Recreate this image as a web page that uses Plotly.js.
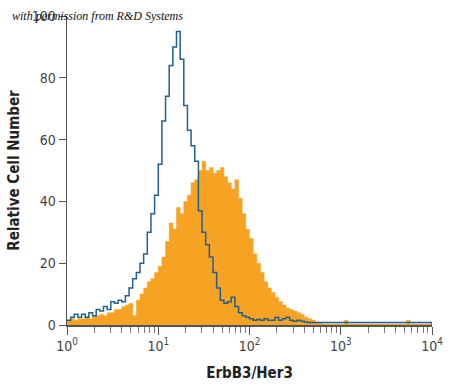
<!DOCTYPE html>
<html>
<head>
<meta charset="utf-8">
<script src="https://cdn.plot.ly/plotly-3.0.1.min.js"></script>
<style>html,body{margin:0;padding:0;background:#fff;}#chart{width:450px;height:387px;}</style>
</head>
<body>
<div id="chart"></div>
<script>
// Histogram channels: 25 bins per decade, from 10^0 to 10^4
const binsPerDecade = 25;
const minExponent = 0;
const maxExponent = 4;

// Isotype control (blue outline)
const controlCounts = [
  1.5, 2.5, 3.5, 2.5, 3.5, 2.5, 4, 3, 5, 4.5,
  6, 5, 7.5, 7, 8, 7.5, 9.5, 12, 15, 17,
  20, 23, 30, 36, 42, 52, 66, 74, 84, 90,
  95, 86, 71, 63, 58, 53, 37, 30, 26, 22,
  17, 12, 8, 7, 7.5, 9, 6, 4, 3, 2.5,
  2, 1.5, 1.8, 1.5, 2, 1.5, 1.5, 2.5, 1.5, 2,
  2.5, 1.5, 1.2, 1.5, 1.2, 1, 0.8, 0.8, 0.8, 0.8,
  0.8, 0.8, 0.8, 0.8, 0.8, 0.8, 0.8, 0.8, 0.8, 0.8,
  0.8, 0.8, 0.8, 0.8, 0.8, 0.8, 0.8, 0.8, 0.8, 0.8,
  0.8, 0.8, 0.8, 0.8, 0.8, 0.8, 0.8, 0.8, 0.8, 0.8
];

// ErbB3/Her3 stained cells (orange filled)
const erbb3Counts = [
  1.5, 2, 1.5, 2, 2, 2.5, 2, 3, 3, 3.5,
  3, 4, 4, 5, 5, 6, 6.5, 7, 3, 8,
  10, 12, 14, 15, 17, 19, 22, 27, 33, 31,
  38, 36, 40, 42, 46, 47, 50, 53, 50, 51,
  49, 50, 51, 48, 46, 44, 47, 41, 36, 31,
  28, 23, 20, 17, 14, 12, 10.5, 9, 7.5, 6.5,
  5.5, 5, 4.5, 4, 3.5, 2.5, 2, 1.5, 1, 0.5,
  0.3, 0.3, 0.3, 0.3, 0.3, 0.3, 1.5, 0.3, 0.3, 0.3,
  0.3, 0.3, 0.3, 0.3, 0.3, 0.3, 0.3, 0.3, 0.3, 0.3,
  0.3, 0.3, 0.3, 1.5, 0.3, 0.3, 0.3, 0.3, 0.3, 0.3
];

const xTickVals = [1, 10, 100, 1000, 10000];
const xTickText = ['10<sup>0</sup>', '10<sup>1</sup>', '10<sup>2</sup>', '10<sup>3</sup>', '10<sup>4</sup>'];
const yTickVals = [0, 20, 40, 60, 80, 100];

function stepData(counts) {
  const xs = [], ys = [];
  for (let i = 0; i < counts.length; i++) {
    xs.push(Math.pow(10, minExponent + i / binsPerDecade));
    ys.push(counts[i]);
  }
  const lastEdge = Math.pow(10, minExponent + counts.length / binsPerDecade);
  xs.push(lastEdge); ys.push(counts[counts.length - 1]);
  xs.push(lastEdge); ys.push(0);
  return {x: xs, y: ys};
}

const minorVals = [];
for (let e = minExponent; e < maxExponent; e++) {
  for (let m = 2; m <= 9; m++) minorVals.push(m * Math.pow(10, e));
}

const o = stepData(erbb3Counts);
const b = stepData(controlCounts);

const fam = '"Liberation Sans Narrow", "DejaVu Sans Condensed", Arial, sans-serif';
const tickFont = {family: fam, size: 14, color: '#444'};

const data = [
  {x: o.x, y: o.y, type: 'scatter', mode: 'lines', line: {shape: 'hv', width: 0.5, color: '#F6A222'},
   fill: 'tozeroy', fillcolor: '#F6A222', hoverinfo: 'skip'},
  {x: b.x, y: b.y, type: 'scatter', mode: 'lines', line: {shape: 'hv', width: 1.5, color: '#22608f'}, hoverinfo: 'skip'}
];

const layout = {
  width: 450, height: 387,
  margin: {l: 67, r: 18, t: 16, b: 62, pad: 0},
  paper_bgcolor: '#fff', plot_bgcolor: '#fff',
  showlegend: false,
  title: {text: '<i>with permission from R&amp;D Systems</i>', xref: 'container', yref: 'container',
          x: 12/450, xanchor: 'left', y: 1 - 16/387, yanchor: 'middle',
          font: {family: '"Liberation Serif", "DejaVu Serif", serif', size: 12, color: '#111'}},
  xaxis: {
    type: 'log', range: [minExponent, maxExponent],
    tickmode: 'array', tickvals: xTickVals, ticktext: xTickText,
    ticks: 'outside', ticklen: 8, tickwidth: 1, tickcolor: '#555',
    minor: {tickmode: 'array', tickvals: minorVals, ticks: 'outside', ticklen: 6, tickwidth: 1, tickcolor: '#777', showgrid: false},
    showline: true, linecolor: '#555', linewidth: 1.5, showgrid: false, zeroline: false,
    tickfont: tickFont,
    title: {text: 'ErbB3/Her3', font: {family: fam, size: 15, color: '#222', weight: 'bold'}, standoff: 14}
  },
  yaxis: {
    range: [0, 100], tickmode: 'array', tickvals: yTickVals,
    ticks: 'outside', ticklen: 7, tickwidth: 1, tickcolor: '#555',
    showline: true, linecolor: '#555', linewidth: 1.5, showgrid: false, zeroline: false,
    tickfont: tickFont,
    title: {text: 'Relative Cell Number', font: {family: fam, size: 15, color: '#222', weight: 'bold'}, standoff: 8}
  }
};

Plotly.newPlot('chart', data, layout, {staticPlot: true, displayModeBar: false});
</script>
</body>
</html>
